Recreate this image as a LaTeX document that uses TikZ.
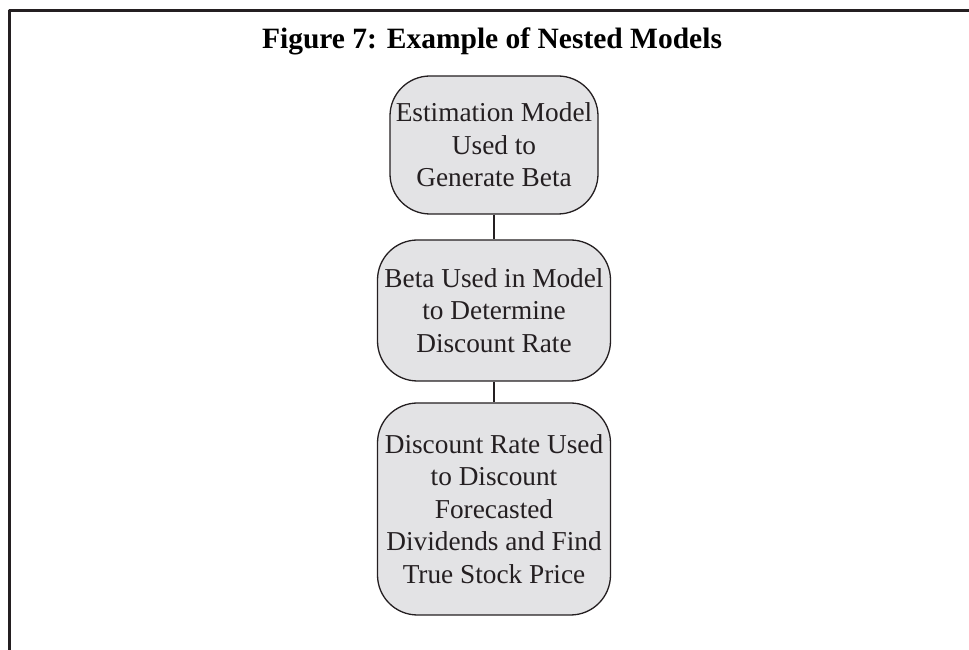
\documentclass[tikz,border=0pt]{standalone}
\usepackage{fontspec}
\setmainfont{Liberation Serif}
\usetikzlibrary{arrows,shapes}

\definecolor{inkcol}{rgb}{0.14,0.12,0.13}
\definecolor{fillcol}{rgb}{0.89,0.89,0.90}

\begin{document}
\begin{tikzpicture}[line join=bevel,
  stage/.style={draw=inkcol,fill=fillcol,rounded corners=40bp,line width=1.3bp,
    align=center,text=inkcol,inner sep=0pt,
    font=\fontsize{27.3bp}{32.5bp}\selectfont},
  link/.style={draw=inkcol,line width=1.2bp}]
\useasboundingbox (0bp,0bp) rectangle (969bp,650bp);
\pgfsetlinewidth{1bp}
\pgfsetcolor{inkcol}

% Frame
\draw [line width=3bp] (969bp,639bp) -- (9bp,639bp) -- (9bp,0bp);

% Title
\node (title) at (492bp,609bp) {\fontsize{29.5bp}{34bp}\selectfont\bfseries Figure 7: Example of Nested Models};

% Node: est
\begin{scope}
  \node [stage,minimum width=208bp,minimum height=138bp] (est) at (494bp,505bp)
    {Estimation Model\\Used to\\Generate Beta};
\end{scope}

% Node: beta
\begin{scope}
  \node [stage,minimum width=233bp,minimum height=141bp] (beta) at (494bp,339.5bp)
    {Beta Used in Model\\to Determine\\Discount Rate};
\end{scope}

% Node: price
\begin{scope}
  \node [stage,minimum width=233bp,minimum height=212bp] (price) at (494bp,141bp)
    {Discount Rate Used\\to Discount\\Forecasted\\Dividends and Find\\True Stock Price};
\end{scope}

% Edge: est -> beta
\draw [link] (est.south) -- (beta.north);

% Edge: beta -> price
\draw [link] (beta.south) -- (price.north);
%
\end{tikzpicture}
\end{document}
